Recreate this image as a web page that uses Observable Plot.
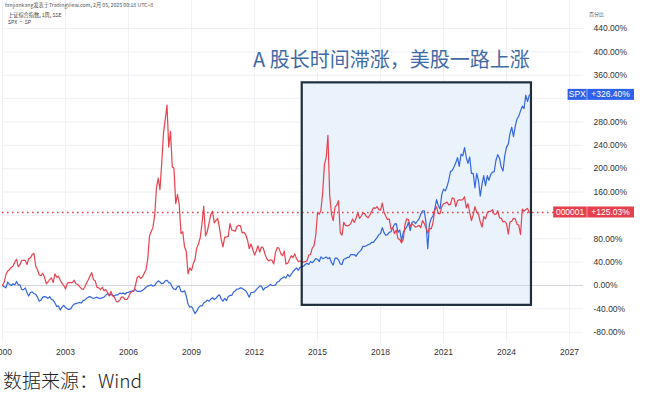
<!DOCTYPE html>
<html><head><meta charset="utf-8">
<script src="https://cdn.jsdelivr.net/npm/d3@7"></script>
<script src="https://cdn.jsdelivr.net/npm/@observablehq/plot@0.6"></script>
<style>
body{margin:0;background:#fff;width:646px;height:394px;overflow:hidden;font-family:"Liberation Sans",Arial,sans-serif}
#caption{margin:3px 0 0 3px;font:300 19px/22px "Noto Sans CJK SC",sans-serif;color:#222}
</style></head><body>
<div id="chart"></div>
<div id="caption">数据来源：Wind</div>
<script>
// Monthly series, % change since the first week of 2000 (month-end values)
const firstMonth = "2000-01-01";
const lastMonth = "2025-02-01";
const shanghai = [0,
  6, 19, 25, 27, 31, 33, 40, 45, 32, 36, 43, 43,
  43, 36, 46, 47, 53, 55, 33, 27, 18, 17, 21, 14,
  3, 6, 10, 13, 5, 20, 14, 16, 9, 4, 0, -6,
  4, 5, 5, 5, 9, 3, 2, -2, -5, -7, -3, 4,
  10, 16, 22, 10, 8, -3, -4, -7, -3, -9, -7, -12,
  -18, -10, -18, -20, -27, -28, -25, -20, -20, -24, -24, -20,
  -13, -10, -10, 0, 14, 16, 12, 15, 21, 27, 45, 85,
  93, 99, 120, 166, 184, 164, 209, 261, 284, 309, 237, 264,
  203, 201, 140, 156, 138, 89, 92, 66, 59, 20, 30, 26,
  38, 44, 64, 71, 82, 105, 136, 85, 92, 107, 121, 127,
  107, 111, 115, 99, 79, 66, 83, 83, 84, 106, 95, 94,
  93, 101, 103, 102, 90, 91, 87, 78, 63, 71, 62, 52,
  59, 68, 57, 66, 64, 54, 46, 42, 44, 43, 37, 57,
  65, 64, 55, 51, 59, 37, 38, 45, 51, 48, 54, 46,
  41, 42, 41, 40, 41, 42, 52, 53, 64, 68, 86, 124,
  122, 129, 159, 207, 219, 257, 154, 122, 111, 134, 138, 145,
  90, 86, 108, 103, 102, 103, 106, 114, 108, 115, 125, 115,
  119, 124, 123, 118, 116, 121, 127, 133, 132, 135, 130, 129,
  141, 126, 119, 113, 114, 97, 99, 89, 95, 80, 79, 73,
  79, 104, 114, 113, 101, 106, 103, 100, 101, 103, 99, 111,
  106, 99, 90, 98, 97, 107, 129, 135, 123, 123, 135, 140,
  141, 143, 138, 139, 150, 149, 135, 145, 147, 146, 147, 152,
  133, 140, 125, 111, 121, 135, 125, 122, 109, 100, 118, 114,
  125, 127, 127, 130, 122, 122, 128, 116, 115, 109, 110, 106,
  88, 109, 110, 115, 114, 105, 103, 87, 131, 127, 130, 132,
  125.03];
const spx = [0,
  -2, -4, 6, 2, 0, 3, 1, 7, 1, 1, -7, -7,
  -4, -12, -18, -12, -11, -14, -15, -20, -27, -25, -20, -19,
  -20, -22, -19, -24, -25, -30, -36, -35, -42, -37, -34, -38,
  -40, -41, -40, -35, -32, -31, -30, -29, -30, -26, -25, -22,
  -20, -19, -21, -22, -21, -20, -22, -22, -21, -20, -17, -14,
  -17, -15, -17, -18, -16, -16, -13, -14, -13, -15, -12, -12,
  -10, -10, -9, -7, -10, -10, -10, -8, -6, -3, -1, 0,
  1, -1, 0, 5, 8, 6, 3, 4, 8, 9, 5, 4,
  -3, -6, -7, -2, -1, -10, -11, -9, -18, -32, -37, -36,
  -42, -48, -44, -38, -35, -35, -30, -28, -25, -27, -23, -21,
  -24, -22, -18, -16, -23, -27, -22, -26, -19, -17, -17, -11,
  -9, -6, -6, -4, -5, -7, -9, -14, -20, -12, -12, -11,
  -7, -4, -1, -1, -8, -4, -3, -1, 2, 0, 0, 1,
  6, 7, 11, 13, 15, 13, 19, 15, 19, 24, 27, 30,
  26, 31, 32, 33, 36, 38, 36, 41, 39, 42, 46, 45,
  41, 49, 46, 47, 49, 46, 48, 39, 35, 47, 47, 44,
  37, 36, 45, 46, 48, 48, 53, 53, 53, 50, 55, 58,
  61, 67, 67, 68, 70, 71, 74, 74, 78, 82, 87, 89,
  99, 91, 86, 87, 91, 92, 99, 105, 106, 91, 95, 77,
  91, 96, 100, 108, 94, 108, 110, 106, 110, 114, 122, 128,
  128, 108, 63, 105, 115, 119, 131, 147, 137, 131, 156, 165,
  162, 169, 180, 195, 197, 203, 210, 219, 204, 225, 222, 236,
  219, 209, 220, 192, 192, 167, 192, 179, 153, 173, 188, 171,
  188, 180, 190, 194, 195, 214, 224, 218, 203, 196, 222, 237,
  242, 260, 271, 255, 273, 285, 290, 299, 307, 303, 326, 315,
  326.40];
const xTickYears = [2000, 2003, 2006, 2009, 2012, 2015, 2018, 2021, 2024, 2027];
const yTicks = [-80, -40, 0, 40, 80, 120, 160, 200, 240, 280, 320, 360, 400, 440];
const yTickLabels = [-80, -40, 0, 40, 80, 160, 200, 240, 280, 360, 400, 440];
const seriesNames = ["000001", "SPX"];
const lastValues = [125.03, 326.40];
const titleText = "A 股长时间滞涨，美股一路上涨";
const headerLines = ["fanjiankang发表于TradingView.com, 2月 05, 2025 00:18 UTC+8", "上证综合指数, 1周, SSE", "SPX · SP"];
const scaleTitle = "百分比";

const RED = "#e6424f", BLUE = "#3366e0";
const months = d3.utcMonths(new Date(firstMonth), new Date(lastMonth + "T00:00:01Z"));
const rows = [];
months.forEach((d, i) => {
  if (shanghai[i] != null) rows.push({date: d, value: shanghai[i], series: "000001"});
  if (spx[i] != null) rows.push({date: d, value: spx[i], series: "SPX"});
});
const xTicks = xTickYears.map(y => new Date(Date.UTC(y, 0, 1)));
const labels = [
  {name: seriesNames[0], value: lastValues[0], color: "#e5404d"},
  {name: seriesNames[1], value: lastValues[1], color: "#2f62ea"}
];

const overlay = (index, scales, values, dims) => {
  const g = d3.create("svg:g");
  const xr = dims.width - dims.marginRight;
  for (const l of labels) {
    const yy = scales.y(l.value);
    const nw = l.name.length * 4.8 + 5;
    g.append("rect").attr("x", xr + 4 - nw).attr("y", yy - 5.5).attr("width", nw).attr("height", 11).attr("fill", l.color);
    g.append("rect").attr("x", xr + 4).attr("y", yy - 5.5).attr("width", 47).attr("height", 11).attr("fill", l.color);
    g.append("line").attr("x1", xr + 4).attr("x2", xr + 4).attr("y1", yy - 5.5).attr("y2", yy + 5.5).attr("stroke", "rgba(255,255,255,0.45)");
    g.append("text").attr("x", xr + 4 - nw / 2).attr("y", yy).attr("dy", "0.35em").attr("text-anchor", "middle")
      .attr("fill", "#fff").attr("font-size", 8.5).text(l.name);
    g.append("text").attr("x", xr + 27.5).attr("y", yy).attr("dy", "0.35em").attr("text-anchor", "middle")
      .attr("fill", "#fff").attr("font-size", 8.5).text((l.value >= 0 ? "+" : "") + l.value.toFixed(2) + "%");
  }
  const hdr = (x, y, size, fill, t) => g.append("text").attr("x", x).attr("y", y).attr("dy", "0.35em")
    .attr("text-anchor", "start").attr("font-size", size).attr("fill", fill)
    .attr("font-family", "Noto Sans CJK SC, sans-serif").text(t);
  hdr(5, 5, 5.2, "#555", headerLines[0]);
  hdr(8, 15.5, 5.2, "#444", headerLines[1]);
  hdr(8, 22.5, 5.2, "#444", headerLines[2]);
  hdr(xr + 6, 14, 5, "#555", scaleTitle);
  return g.node();
};

const box = {x1: new Date("2014-04-10"), x2: new Date("2025-03-10"), y1: -34, y2: 347};

const chart = Plot.plot({
  width: 646, height: 366,
  marginLeft: 2, marginRight: 63, marginTop: 0, marginBottom: 24,
  style: {fontFamily: "Liberation Sans, Arial, sans-serif", fontSize: "8.5px", color: "#333", background: "#fff"},
  x: {type: "utc", domain: [new Date("2000-01-01"), new Date("2027-09-01")]},
  y: {domain: [-97.6, 488]},
  marks: [
    Plot.ruleY(yTicks, {stroke: "#eef0f4"}),
    Plot.ruleX(xTicks, {stroke: "#eef0f4"}),
    Plot.rect([box], {x1: "x1", x2: "x2", y1: "y1", y2: "y2", fill: "#eaf2fb"}),
    Plot.ruleY([0], {stroke: "#d3d6dc"}),
    Plot.ruleY([lastValues[0]], {stroke: RED, strokeWidth: 1.6, strokeDasharray: "1.6,3.4"}),
    Plot.line(rows.filter(d => d.series === "SPX"), {x: "date", y: "value", stroke: BLUE, strokeWidth: 1.2}),
    Plot.line(rows.filter(d => d.series === "000001"), {x: "date", y: "value", stroke: RED, strokeWidth: 1.2}),
    Plot.rect([box], {x1: "x1", x2: "x2", y1: "y1", y2: "y2", fill: "none", stroke: "#1f2f3e", strokeWidth: 2.2}),
    Plot.text([titleText], {x: new Date("2018-07-08"), y: 385, text: d => d, fontSize: 20, fill: "#3f6aa6",
      fontFamily: "Noto Sans CJK SC, sans-serif"}),
    Plot.axisX(xTicks, {tickSize: 0, tickPadding: 6, tickFormat: d => String(d.getUTCFullYear()), label: null, fill: "#333", fontSize: 8.5}),
    Plot.axisY(yTickLabels, {anchor: "right", tickSize: 0, tickPadding: 10, tickFormat: d => d.toFixed(2) + "%", label: null, fill: "#333", fontSize: 8.5}),
    overlay
  ]
});
document.getElementById("chart").appendChild(chart);
</script>
</body></html>
